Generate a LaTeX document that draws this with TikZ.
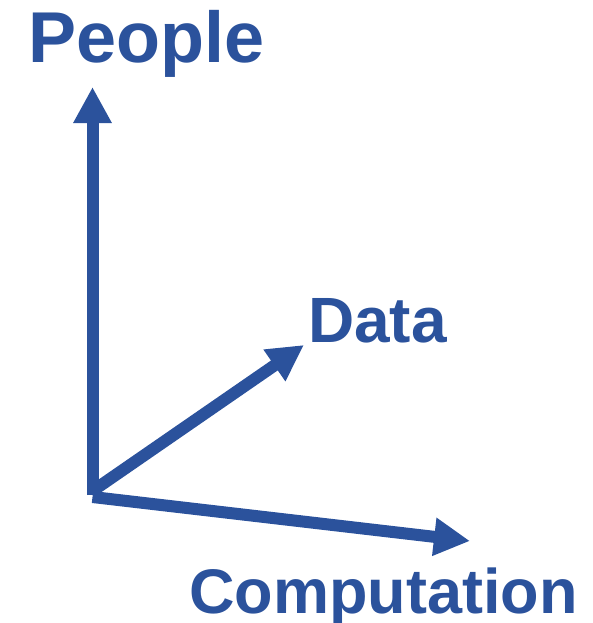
\documentclass[tikz,border=0pt]{standalone}
\usepackage{fontspec}
\setmainfont{Liberation Sans}
\usetikzlibrary{arrows.meta}
\definecolor{axisblue}{RGB}{43,82,156}
\begin{document}
\begin{tikzpicture}[x=1pt,y=-1pt,
  axis/.style={draw=axisblue,line width=12pt,-{Triangle[length=36pt,width=36pt]}},
  lbl/.style={text=axisblue,font=\bfseries,inner sep=0pt,anchor=base west}]
\useasboundingbox (0,0) rectangle (592,623);
\coordinate (O) at (92.5,495);
\coordinate (Otop) at (92.5,491);
\coordinate (Obot) at (92.5,497);
\coordinate (Ptip) at (92.5,87);
\coordinate (Dtip) at (304,345);
\coordinate (Ctip) at (470,541);
\node[lbl,font=\bfseries\fontsize{72}{72}\selectfont] (people) at (28,63) {People};
\node[lbl,font=\bfseries\fontsize{64}{64}\selectfont] (data) at (308,342) {Data};
\node[lbl,font=\bfseries\fontsize{63}{63}\selectfont] (comp) at (189,613) {Computation};
\draw[axis] (O) -- (Ptip);
\draw[axis] (Otop) -- (Dtip);
\draw[axis] (Obot) -- (Ctip);
\end{tikzpicture}
\end{document}
